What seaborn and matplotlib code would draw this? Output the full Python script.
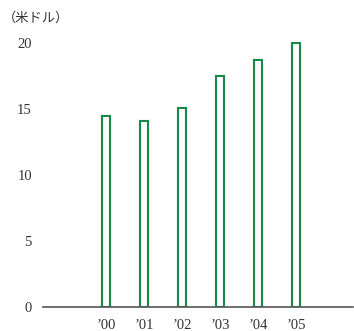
import matplotlib
matplotlib.use('Agg')
import matplotlib.pyplot as plt
import seaborn as sns
import pandas as pd

# values (US dollars)
years = ["’00", "’01", "’02", "’03", "’04", "’05"]
values = [14.45, 14.05, 15.05, 17.45, 18.65, 19.95]
yticks = [0, 5, 10, 15, 20]

sns.set_style('white')
plt.rcParams['font.family'] = ['Liberation Serif', 'DejaVu Serif']

df = pd.DataFrame({'year': years, 'value': values})

fig = plt.figure(figsize=(3.54, 3.31), dpi=100)
ax = fig.add_axes([0.1215, 0.074, 0.877, 0.837])

green = '#178a47'
sns.barplot(data=df, x='year', y='value', ax=ax, fill=False, color=green,
            width=0.21, linewidth=1.5)
for p in ax.patches:
    p.set_edgecolor(green)
    p.set_facecolor('white')
    p.set_fill(True)

ax.set_xlim(-1.67, 6.5)
ax.set_ylim(0, 21)
ax.set_yticks(yticks)
ax.set_yticklabels([str(v) for v in yticks])
ax.set_xlabel('')
ax.set_ylabel('')
for s in ['top', 'right', 'left']:
    ax.spines[s].set_visible(False)
ax.spines['bottom'].set_color('#555555')
ax.spines['bottom'].set_linewidth(1.2)
ax.tick_params(axis='both', length=0, labelsize=10.5, colors='#333333')
ax.tick_params(axis='x', pad=9)
ax.tick_params(axis='y', pad=8)

fig.text(0.008, 0.944, '（米ドル）', fontsize=9.5, color='#333333',
         family=['Noto Sans CJK JP', 'DejaVu Sans'], va='center', ha='left')

fig.savefig('out.png', dpi=100)
